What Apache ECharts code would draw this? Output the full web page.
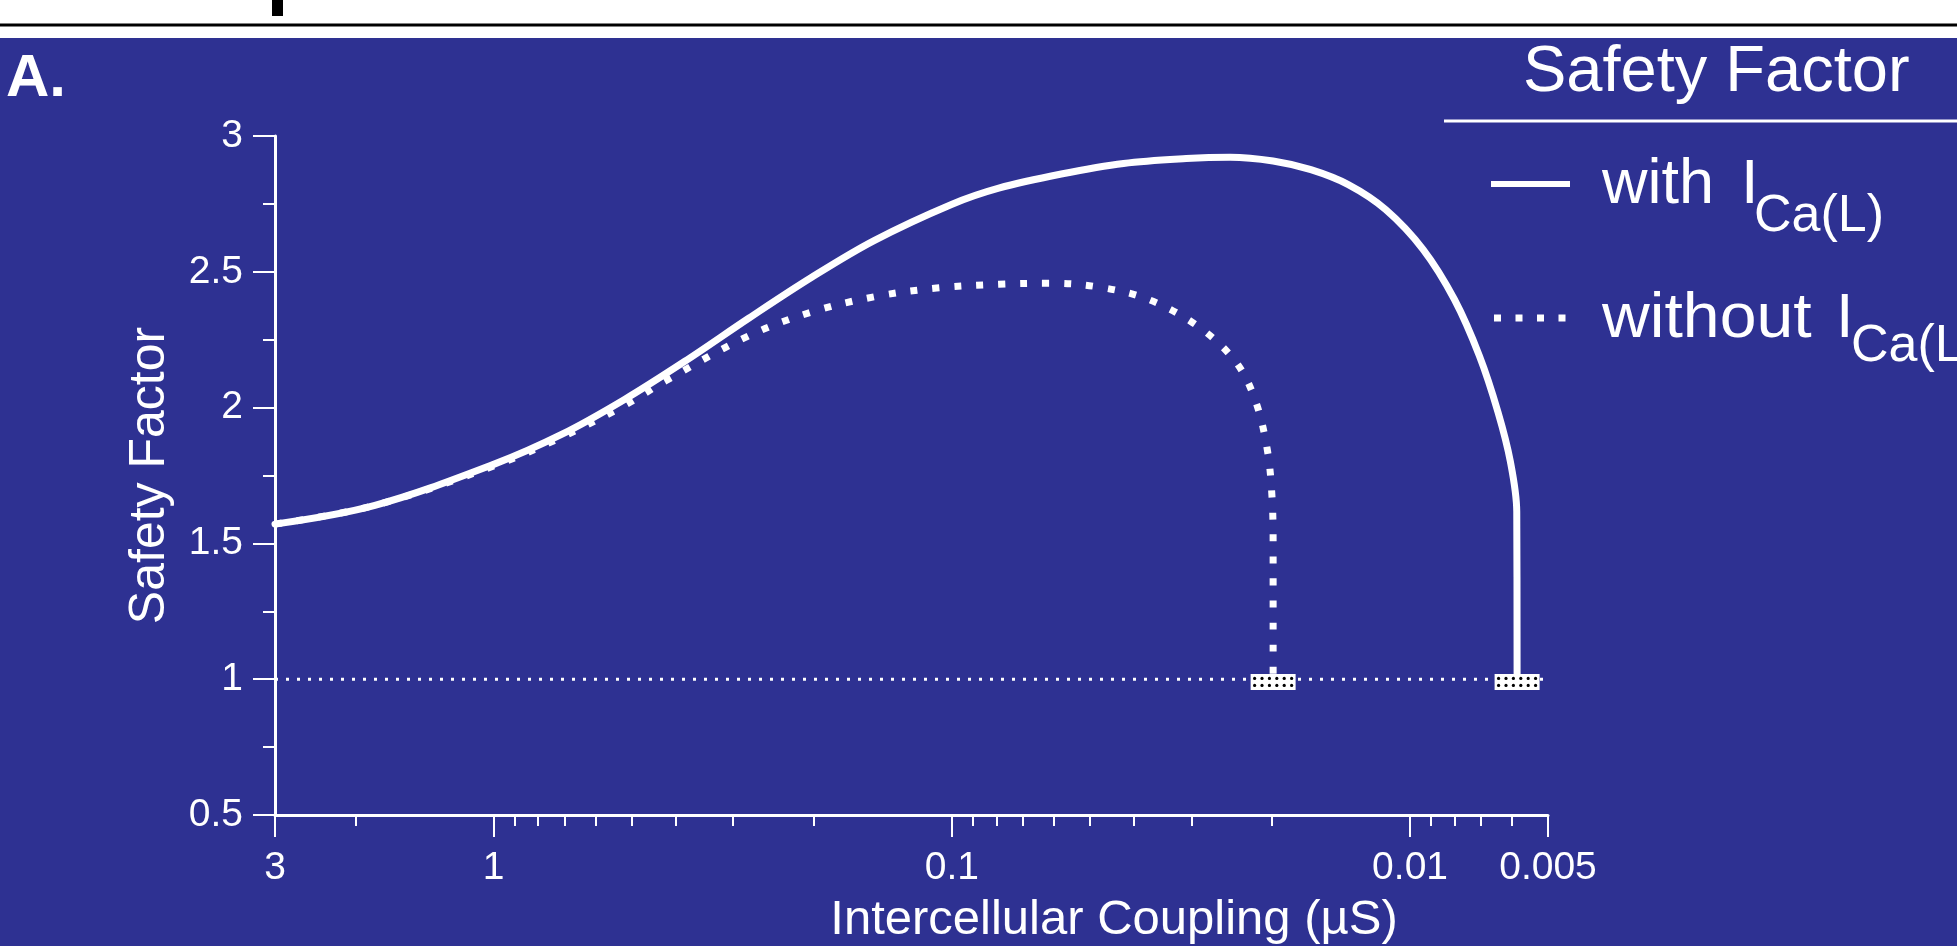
<!DOCTYPE html>
<html><head><meta charset="utf-8">
<script src="https://cdn.jsdelivr.net/npm/echarts@6/dist/echarts.min.js"></script>
<style>html,body{margin:0;padding:0;background:#fff}#c{width:1957px;height:946px}</style>
</head><body><div id="c"></div>
<script>
// ---- data ----
const couplingWith = [3, 1.816, 1.0, 0.709, 0.518, 0.379, 0.277, 0.2022, 0.1478, 0.1002, 0.079, 0.0577, 0.0422, 0.0308, 0.0247, 0.0199, 0.01646, 0.01364, 0.0113, 0.00936, 0.008, 0.00706, 0.00643, 0.00604, 0.00585, 0.00584];
const safetyWith   = [1.571, 1.640, 1.791, 1.902, 2.030, 2.175, 2.330, 2.480, 2.615, 2.748, 2.808, 2.860, 2.899, 2.917, 2.922, 2.908, 2.876, 2.821, 2.729, 2.582, 2.398, 2.191, 1.984, 1.801, 1.617, 1.0];
const couplingWithout = [3, 1.816, 1.0, 0.709, 0.518, 0.42, 0.277, 0.2022, 0.1478, 0.108, 0.079, 0.0614, 0.0478, 0.0372, 0.0289, 0.024, 0.0218, 0.0205, 0.0200, 0.0199, 0.0199];
const safetyWithout   = [1.571, 1.640, 1.785, 1.892, 2.008, 2.100, 2.265, 2.352, 2.408, 2.440, 2.454, 2.458, 2.444, 2.398, 2.297, 2.168, 2.030, 1.847, 1.663, 1.479, 1.0];
const thresholdCoupling = [3, 0.0047];
const thresholdSafety = [1, 1];
const blockCoupling = [0.0199, 0.00584];
const blockSafety = [0.99, 0.99];
const xMajorTicks = [3, 1, 0.1, 0.01, 0.005];
const xTickLabels = ['3', '1', '0.1', '0.01', '0.005'];
const xMinorTicks = [2, 0.9, 0.8, 0.7, 0.6, 0.5, 0.4, 0.3, 0.2, 0.09, 0.08, 0.07, 0.06, 0.05, 0.04, 0.03, 0.02, 0.009, 0.008, 0.007, 0.006];
const yMin = 0.5, yMax = 3, yStep = 0.5;
const legendTitle = 'Safety Factor';
const xName = 'Intercellular Coupling (\u00b5S)';
const yName = 'Safety Factor';
const panelLabel = 'A.';

const zip = (a, b) => a.map((v, i) => [v, b[i]]);
const BLUE = '#2e3192';
const FONT = '"Liberation Sans", Arial, sans-serif';

const chart = echarts.init(document.getElementById('c'), null, {renderer: 'canvas'});
const logAxisBase = {
  type: 'log', logBase: 10, inverse: true, min: 0.005, max: 3, gridIndex: 0,
  splitLine: {show: false}, minorTick: {show: false}
};
function renderBlock(params, api) {
  const p = api.coord([api.value(0), api.value(1)]);
  const w = 45, h = 16;
  const children = [{type: 'rect', shape: {x: p[0] - w / 2, y: p[1] - h / 2, width: w, height: h}, style: {fill: '#fff'}}];
  for (let r = 0; r < 2; r++) {
    for (let c = 0; c < 6; c++) {
      children.push({type: 'circle', shape: {cx: p[0] - w / 2 + 4 + c * 7.4, cy: p[1] - h / 2 + 4.5 + r * 7, r: 1.6}, style: {fill: '#000'}});
    }
  }
  return {type: 'group', children};
}
chart.setOption({
  animation: false,
  backgroundColor: BLUE,
  grid: {left: 275, right: 409, top: 136, bottom: 131, containLabel: false, outerBoundsMode: 'none'},
  xAxis: [
    Object.assign({}, logAxisBase, {
      position: 'bottom',
      axisLine: {show: true, lineStyle: {color: '#fff', width: 3}},
      axisTick: {show: true, length: 22, lineStyle: {color: '#fff', width: 2}, customValues: xMajorTicks},
      axisLabel: {
        show: true, margin: 34, color: '#fff', fontSize: 39, fontFamily: FONT,
        customValues: xMajorTicks,
        formatter: v => {
          const i = xMajorTicks.findIndex(t => Math.abs(Math.log10(t) - Math.log10(v)) < 1e-6);
          return i >= 0 ? xTickLabels[i] : '';
        }
      }
    }),
    Object.assign({}, logAxisBase, {
      position: 'bottom',
      axisLine: {show: false},
      axisTick: {show: true, length: 11, lineStyle: {color: '#fff', width: 2}, customValues: xMinorTicks},
      axisLabel: {show: false}
    })
  ],
  yAxis: {
    type: 'value', min: yMin, max: yMax, interval: yStep,
    name: yName, nameLocation: 'middle', nameGap: 100, nameRotate: 90,
    nameTextStyle: {color: '#fff', fontSize: 50, fontFamily: FONT},
    axisLine: {show: true, lineStyle: {color: '#fff', width: 3}},
    axisTick: {show: true, length: 22, lineStyle: {color: '#fff', width: 2}},
    minorTick: {show: true, splitNumber: 2, length: 12, lineStyle: {color: '#fff', width: 2}},
    splitLine: {show: false},
    axisLabel: {color: '#fff', fontSize: 39, fontFamily: FONT, margin: 32}
  },
  graphic: [
    {type: 'rect', shape: {x: 0, y: 0, width: 1957, height: 38}, style: {fill: '#fff'}, z: 10},
    {type: 'line', shape: {x1: 0, y1: 25, x2: 1957, y2: 25}, style: {stroke: '#000', lineWidth: 3}, z: 11},
    {type: 'rect', shape: {x: 272, y: 0, width: 11, height: 16}, style: {fill: '#000'}, z: 11},
    {type: 'text', x: 6, y: 79, style: {text: panelLabel, fill: '#fff', font: 'bold 60px ' + FONT, textAlign: 'left', textVerticalAlign: 'middle'}, z: 10},
    {type: 'text', x: 1523, y: 73, style: {text: legendTitle, fill: '#fff', font: '65px ' + FONT, textAlign: 'left', textVerticalAlign: 'middle'}, z: 10},
    {type: 'line', shape: {x1: 1444, y1: 121, x2: 1957, y2: 121}, style: {stroke: '#fff', lineWidth: 3}, z: 10},
    {type: 'line', shape: {x1: 1491, y1: 184, x2: 1570, y2: 184}, style: {stroke: '#fff', lineWidth: 6}, z: 10},
    {type: 'text', x: 1602, y: 186, style: {text: 'with', fill: '#fff', font: '63px ' + FONT, textAlign: 'left', textVerticalAlign: 'middle'}, z: 10},
    {type: 'text', x: 1741, y: 186, style: {text: 'I', fill: '#fff', font: '63px ' + FONT, textAlign: 'left', textVerticalAlign: 'middle'}, z: 10},
    {type: 'text', x: 1754, y: 217, style: {text: 'Ca(L)', fill: '#fff', font: '52px ' + FONT, textAlign: 'left', textVerticalAlign: 'middle'}, z: 10},
    {type: 'line', shape: {x1: 1494, y1: 318, x2: 1572, y2: 318}, style: {stroke: '#fff', lineWidth: 7, lineDash: [7, 14.5], lineCap: 'butt'}, z: 10},
    {type: 'text', x: 1602, y: 320, scaleX: 1.05, originX: 0, originY: 0, style: {text: 'without', fill: '#fff', font: '63px ' + FONT, textAlign: 'left', textVerticalAlign: 'middle'}, z: 10},
    {type: 'text', x: 1836, y: 320, style: {text: 'I', fill: '#fff', font: '63px ' + FONT, textAlign: 'left', textVerticalAlign: 'middle'}, z: 10},
    {type: 'text', x: 1851, y: 347, style: {text: 'Ca(L)', fill: '#fff', font: '52px ' + FONT, textAlign: 'left', textVerticalAlign: 'middle'}, z: 10},
    {type: 'text', x: 1114, y: 920, style: {text: xName, fill: '#fff', font: '49px ' + FONT, textAlign: 'center', textVerticalAlign: 'middle'}, z: 10}
  ],
  series: [
    {
      type: 'line', name: 'threshold', xAxisIndex: 0, data: zip(thresholdCoupling, thresholdSafety),
      symbol: 'none', clip: false, z: 2,
      lineStyle: {color: '#fff', width: 3, type: [3, 8], cap: 'butt'}
    },
    {
      type: 'line', name: 'without ICa(L)', xAxisIndex: 0, data: zip(couplingWithout, safetyWithout),
      symbol: 'none', smooth: 0.35, clip: false, z: 3,
      lineStyle: {color: '#fff', width: 7, type: [7, 15], cap: 'butt'}
    },
    {
      type: 'line', name: 'with ICa(L)', xAxisIndex: 0, data: zip(couplingWith, safetyWith),
      symbol: 'none', smooth: 0.35, clip: false, z: 4,
      lineStyle: {color: '#fff', width: 7, cap: 'round'}
    },
    {
      type: 'custom', name: 'block', xAxisIndex: 0, data: zip(blockCoupling, blockSafety),
      renderItem: renderBlock, z: 5
    }
  ]
});
</script></body></html>
